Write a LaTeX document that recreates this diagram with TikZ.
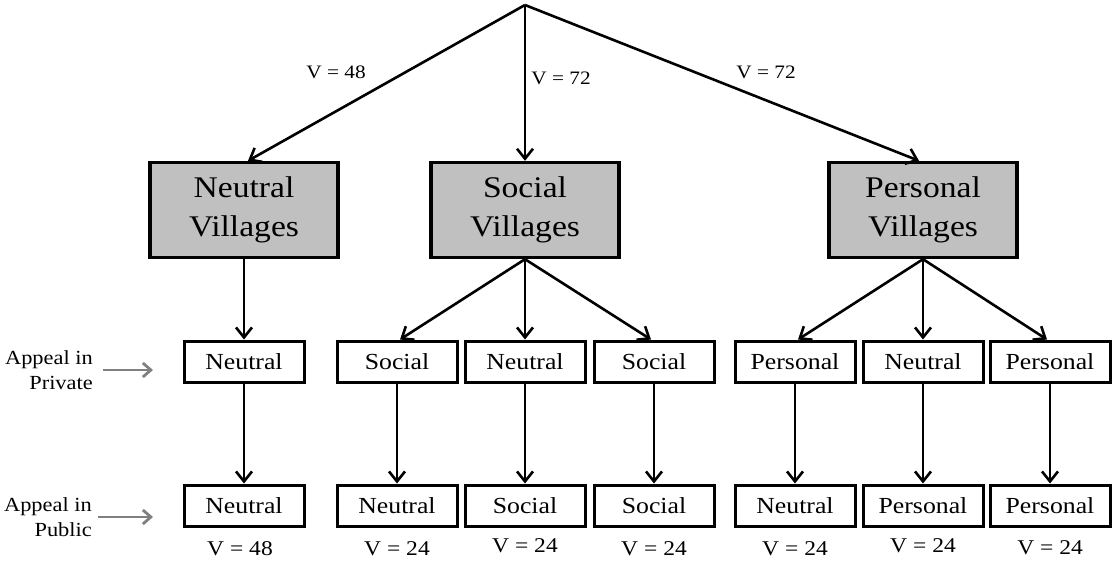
\documentclass[tikz,border=0pt]{standalone}
\usepackage{fontspec}
\setmainfont{Liberation Serif}[FakeStretch=1.12]
\usetikzlibrary{arrows.meta}
\definecolor{boxgray}{HTML}{C0C0C0}
\definecolor{arrgray}{HTML}{808080}
\begin{document}
\begin{tikzpicture}[x=1pt,y=-1pt,
  bigbox/.style={draw, line width=3.4pt, fill=boxgray, minimum width=188pt, minimum height=95pt, align=center, inner sep=0pt, font=\fontsize{30}{39}\selectfont},
  smallbox/.style={draw, line width=3pt, fill=white, minimum width=120pt, minimum height=41pt, inner sep=0pt, font=\fontsize{23}{27}\selectfont},
  arr/.style={line width=2.6pt, -{Straight Barb[length=10pt,width=16pt]}},
  grayarr/.style={line width=2.8pt, draw=arrgray, -{Straight Barb[length=8pt,width=14pt]}},
  vtop/.style={font=\fontsize{19}{22}\selectfont, inner sep=0pt},
  vbot/.style={font=\fontsize{21}{24}\selectfont, inner sep=0pt},
  sidelbl/.style={font=\fontsize{20}{25}\selectfont, align=right, inner sep=0pt, anchor=east}]
\useasboundingbox (0,0) rectangle (1113,560);
\coordinate (root) at (525,5);
% top level boxes
\node[bigbox] (NV) at (244,210) {Neutral\\Villages};
\node[bigbox] (SV) at (525,210) {Social\\Villages};
\node[bigbox] (PV) at (923,210) {Personal\\Villages};
% private row
\node[smallbox] (p1) at (244,361.5) {Neutral};
\node[smallbox] (p2) at (397,361.5) {Social};
\node[smallbox] (p3) at (525,361.5) {Neutral};
\node[smallbox] (p4) at (654,361.5) {Social};
\node[smallbox] (p5) at (795,361.5) {Personal};
\node[smallbox] (p6) at (923,361.5) {Neutral};
\node[smallbox] (p7) at (1050,361.5) {Personal};
% public row
\node[smallbox] (q1) at (244,505.5) {Neutral};
\node[smallbox] (q2) at (397,505.5) {Neutral};
\node[smallbox] (q3) at (525,505.5) {Social};
\node[smallbox] (q4) at (654,505.5) {Social};
\node[smallbox] (q5) at (795,505.5) {Neutral};
\node[smallbox] (q6) at (923,505.5) {Personal};
\node[smallbox] (q7) at (1050,505.5) {Personal};
% top connectors
\draw[arr] (root) -- ([xshift=4pt]NV.north);
\draw[arr] (root) -- (SV.north);
\draw[arr] (root) -- ([xshift=-4pt]PV.north);
\node[vtop] (v1) at (336,72) {V = 48};
\node[vtop] (v2) at (561,78) {V = 72};
\node[vtop] (v3) at (766,72) {V = 72};
% village to private
\draw[arr] (NV.south) -- (p1.north);
\draw[arr] (SV.south) -- ([xshift=3pt]p2.north);
\draw[arr] (SV.south) -- (p3.north);
\draw[arr] (SV.south) -- ([xshift=-3pt]p4.north);
\draw[arr] (PV.south) -- ([xshift=3pt]p5.north);
\draw[arr] (PV.south) -- (p6.north);
\draw[arr] (PV.south) -- ([xshift=-3pt]p7.north);
% private to public
\foreach \i in {1,...,7} {\draw[arr] (p\i.south) -- (q\i.north);}
% bottom values
\node[vbot] (w1) at (240,549) {V = 48};
\node[vbot] (w2) at (397,549) {V = 24};
\node[vbot] (w3) at (525,546) {V = 24};
\node[vbot] (w4) at (654,549) {V = 24};
\node[vbot] (w5) at (795,549) {V = 24};
\node[vbot] (w6) at (923,546) {V = 24};
\node[vbot] (w7) at (1050,548) {V = 24};
% side labels
\node[sidelbl] (lp) at (93,370) {Appeal in\\Private};
\node[sidelbl] (lq) at (92,517) {Appeal in\\Public};
\coordinate (ap) at (153,370);
\coordinate (aq) at (153,517);
\draw[grayarr] ([xshift=10pt]lp.east) -- (ap);
\draw[grayarr] ([xshift=6pt]lq.east) -- (aq);
\end{tikzpicture}
\end{document}
